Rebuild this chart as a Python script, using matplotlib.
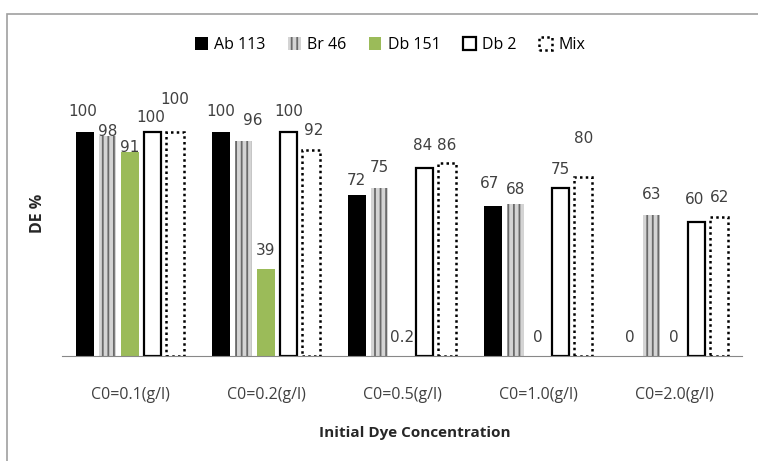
import numpy as np
import matplotlib
matplotlib.use("Agg")
import matplotlib.pyplot as plt
from matplotlib.patches import Rectangle

categories = ["C0=0.1(g/l)", "C0=0.2(g/l)", "C0=0.5(g/l)", "C0=1.0(g/l)", "C0=2.0(g/l)"]
series_names = ["Ab 113", "Br 46", "Db 151", "Db 2", "Mix"]
ab113 = [100, 100, 72, 67, 0]
br46 = [98, 96, 75, 68, 63]
db151 = [91, 39, 0.2, 0, 0]
db2 = [100, 100, 84, 75, 60]
mix = [100, 92, 86, 80, 62]
label_text = [
    ["100", "100", "72", "67", "0"],
    ["98", "96", "75", "68", "63"],
    ["91", "39", "0.2", "0", "0"],
    ["100", "100", "84", "75", "60"],
    ["100", "92", "86", "80", "62"],
]

# label offsets above bar top, in pixels (Excel placed them unevenly)
label_dy = [
    [20, 20, 14, 22, 19],
    [5, 20, 20, 14, 20],
    [5, 18, 18, 19, 19],
    [14, 20, 22, 19, 22],
    [32, 19, 18, 38, 20],
]
label_dx = [
    [-2, 0, 0, -3, 1],
    [0, 9, 0, 0, 0],
    [0, 0, 0, 0, 0],
    [-2, 0, -2, 0, -2],
    [0, 3, 0, 0, 0],
]

plt.rcParams["hatch.linewidth"] = 1.3

DPI = 100
fig = plt.figure(figsize=(7.58, 4.61), dpi=DPI)
ax = fig.add_axes([62 / 758, 105 / 461, 680 / 758, 268.8 / 461])

# outer chart frame
fig.patches.append(Rectangle((7 / 758, -0.1), 1.1, (461 - 14) / 461 + 0.1,
                             transform=fig.transFigure, fill=False,
                             edgecolor="#a0a0a0", lw=1.2))

x = np.arange(len(categories))
step = 0.166
w = 0.13
styles = [
    dict(color="black"),
    dict(facecolor="#d4d4d4", edgecolor="#6a6a6a", hatch="|||", linewidth=0),
    dict(color="#9bbb59"),
    dict(facecolor="white", edgecolor="black", linewidth=1.6),
    dict(facecolor="white", edgecolor="black", linewidth=1.8, linestyle=(0, (1, 1.3))),
]
all_vals = [ab113, br46, db151, db2, mix]
handles = []
for j, (vals, st) in enumerate(zip(all_vals, styles)):
    pos = x + (j - 2) * step
    bars = ax.bar(pos, vals, w, label=series_names[j], **st)
    handles.append(bars)
    for i, b in enumerate(bars):
        ax.annotate(label_text[j][i], (b.get_x() + b.get_width() / 2, b.get_height()),
                    xytext=(label_dx[j][i] * 0.72, label_dy[j][i] * 0.72),
                    textcoords="offset points", ha="center", va="center",
                    fontsize=11, color="#404040", family="DejaVu Sans")

ax.set_xlim(-0.5, 4.5)
ax.set_ylim(0, 120)
ax.set_yticks([])
for s in ["top", "right", "left"]:
    ax.spines[s].set_visible(False)
ax.spines["bottom"].set_color("#888888")
ax.set_xticks(x)
ax.set_xticklabels(categories, fontsize=11.5, color="#404040", family="Open Sans")
ax.tick_params(axis="x", length=0, pad=22)

fig.text(415 / 758, 1 - 433 / 461, "Initial Dye Concentration", ha="center", va="center",
         fontsize=11, fontweight="bold", family="Open Sans", color="#262626")
fig.text(38 / 758, 1 - 213 / 461, "DE %", ha="center", va="center", rotation=90,
         fontsize=11.5, fontweight="bold", family="Open Sans", color="#262626")

fig.legend(handles=handles, labels=series_names, loc="center", ncol=5,
           bbox_to_anchor=(390 / 758, 1 - 45 / 461), frameon=False,
           handlelength=0.8, handleheight=0.8, handletextpad=0.4, columnspacing=1.4,
           prop={"family": "Open Sans", "size": 11.5})

fig.savefig("out.png", dpi=DPI)
